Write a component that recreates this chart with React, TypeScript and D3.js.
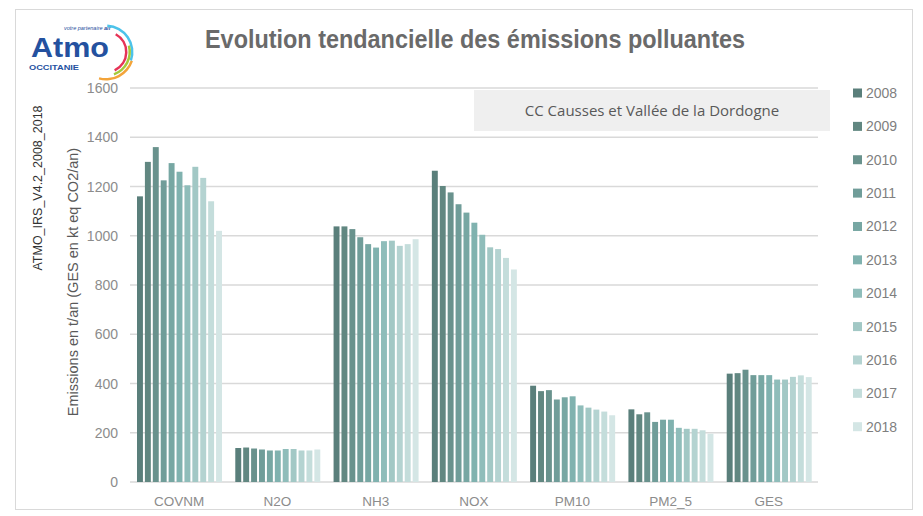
import React from "react";
import * as d3 from "d3";

const categories = ["COVNM", "N2O", "NH3", "NOX", "PM10", "PM2_5", "GES"];
const years = ["2008", "2009", "2010", "2011", "2012", "2013", "2014", "2015", "2016", "2017", "2018"];

// one array per pollutant, values 2008 -> 2018
const covnm = [1160, 1300, 1360, 1225, 1295, 1260, 1205, 1280, 1235, 1140, 1020];
const n2o = [138, 140, 136, 132, 128, 128, 134, 134, 128, 128, 132];
const nh3 = [1038, 1038, 1027, 994, 966, 952, 978, 980, 959, 966, 986];
const nox = [1264, 1202, 1176, 1128, 1094, 1053, 1004, 953, 946, 910, 863];
const pm10 = [391, 369, 373, 335, 344, 348, 311, 302, 294, 286, 271];
const pm25 = [295, 275, 283, 244, 253, 253, 220, 216, 216, 210, 196];
const ges = [440, 442, 456, 434, 434, 434, 416, 416, 427, 433, 426];
const series = [covnm, n2o, nh3, nox, pm10, pm25, ges];

const yTicks = [0, 200, 400, 600, 800, 1000, 1200, 1400, 1600];
const colors = ["#5a7f7b", "#618781", "#69928d", "#709d99", "#77a7a3", "#80b2af", "#8fbdba", "#a2c8c5", "#b4d3d1", "#c4dddb", "#d4e6e5"];

const narrow = "'Liberation Sans Narrow', 'Arial Narrow', 'Liberation Sans', sans-serif";

const Logo = () => {
  const arc = (r0: number, r1: number, a0: number, a1: number) =>
    d3.arc()({ innerRadius: r0, outerRadius: r1, startAngle: a0, endAngle: a1 }) || "";
  return (
    <g fontFamily="Liberation Sans, sans-serif">
      <text x={64} y={30} fontSize="5.5" fill="#1f4e9c" fontStyle="italic">votre partenaire <tspan fontWeight="bold">air</tspan></text>
      <text x={31} y={57} fontSize="28" fontWeight="bold" fill="#24519f" textLength={78} lengthAdjust="spacingAndGlyphs">Atmo</text>
      <text x={29} y={70} fontSize="8" fontWeight="bold" fill="#24519f" textLength={50} lengthAdjust="spacingAndGlyphs">OCCITANIE</text>
      <g transform="translate(106 52)">
        <path d={arc(25, 27.5, 0.05, 1.9)} fill="#4cc3ea" />
        <path d={arc(19, 21.5, 0.5, 2.7)} fill="#e63357" />
        <path d={arc(22.5, 25, 1.3, 2.8)} fill="#a5c93a" />
        <path d={arc(26, 28.5, 1.9, 3.4)} fill="#f3a43a" />
      </g>
    </g>
  );
};

const App = () => {
  const width = 923;
  const height = 516;
  const x0 = d3.scaleBand<string>().domain(categories).range([130, 818]);
  const x1 = d3.scaleBand<string>().domain(years).range([7, 92]).paddingInner(0.25);
  const y = d3.scaleLinear().domain([0, 1600]).range([482, 88]);

  return (
    <svg width={width} height={height} style={{ position: "absolute", left: 0, top: 0 }}>
      <rect x={0} y={0} width={width} height={height} fill="#fff" />
      <rect x={15.5} y={9.5} width={897} height={500} fill="none" stroke="#d9d9d9" />
      <Logo />
      <text x={475} y={48} textAnchor="middle" fontSize="25" fontWeight="bold" fill="#6a6a6a"
        fontFamily={narrow} textLength={540} lengthAdjust="spacingAndGlyphs">
        Evolution tendancielle des émissions polluantes
      </text>

      {yTicks.map(t => (
        <g key={t}>
          <line x1={130} x2={818} y1={y(t)} y2={y(t)} stroke="#d9d9d9" strokeWidth={1.5} />
          <text x={118} y={y(t) + 5} textAnchor="end" fontSize="14" fill="#8c8c8c" fontFamily={narrow}>{t}</text>
        </g>
      ))}

      <rect x={474} y={90} width={356} height={41} fill="#efefef" />
      <text x={652} y={116} textAnchor="middle" fontSize="15" fill="#595959" fontFamily="'Open Sans', sans-serif">
        CC Causses et Vallée de la Dordogne
      </text>

      {categories.map((c, ci) => (
        <g key={c} transform={`translate(${x0(c)} 0)`}>
          {series[ci].map((v, yi) => (
            <rect key={yi} x={x1(years[yi])} y={y(v)} width={x1.bandwidth()} height={y(0) - y(v)} fill={colors[yi]} />
          ))}
          <text x={x0.bandwidth() / 2} y={506} textAnchor="middle" fontSize="13.5" fill="#8c8c8c" fontFamily={narrow}>{c}</text>
        </g>
      ))}

      <text transform="translate(78 282) rotate(-90)" textAnchor="middle" fontSize="14.5" fill="#595959" fontFamily={narrow}>
        Emissions en t/an (GES en kt eq CO2/an)
      </text>
      <text transform="translate(42 188) rotate(-90)" textAnchor="middle" fontSize="12.5" fill="#333" fontFamily={narrow}>
        ATMO_IRS_V4.2_2008_2018
      </text>

      {years.map((yr, i) => {
        const ly = 93 + i * 33.37;
        return (
          <g key={yr}>
            <rect x={853} y={ly - 4.5} width={9} height={9} fill={colors[i]} />
            <text x={866} y={ly + 5} fontSize="14" fill="#7f7f7f" fontFamily={narrow}>{yr}</text>
          </g>
        );
      })}
    </svg>
  );
};

export default App;
